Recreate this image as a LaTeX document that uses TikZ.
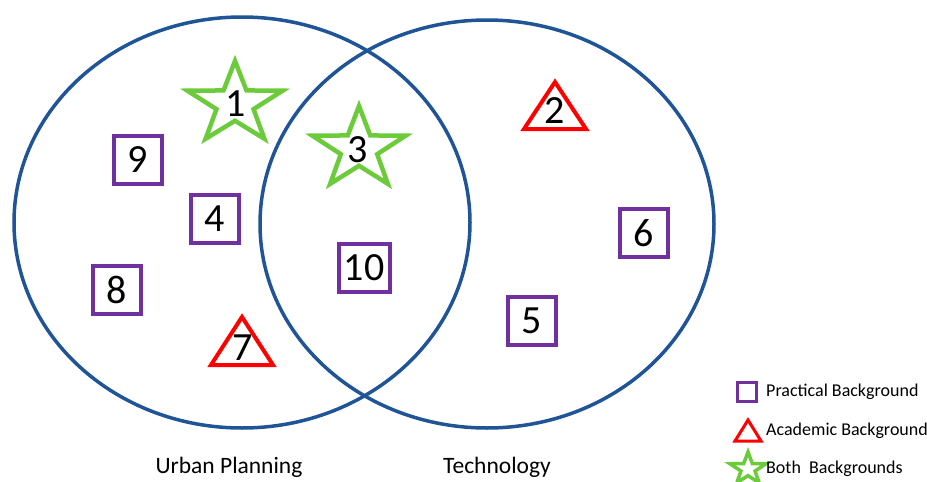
\documentclass[tikz,border=0pt]{standalone}
\usepackage{fontspec}
\setmainfont{Carlito}
\definecolor{vennblue}{RGB}{31,85,151}
\definecolor{practical}{RGB}{112,48,160}
\definecolor{academic}{RGB}{255,0,0}
\definecolor{both}{RGB}{108,203,59}

\tikzset{
	venn/.style={draw=vennblue, line width=3.5pt},
	practicalbox/.style={draw=practical, line width=4pt, minimum size=48pt, inner sep=0pt, font=\fontsize{40}{40}\selectfont},
	academicmark/.style={draw=academic, line width=4pt},
	bothmark/.style={draw=both, line width=4.5pt},
	num/.style={inner sep=0pt, font=\fontsize{40}{40}\selectfont},
	label/.style={inner sep=0pt, font=\fontsize{23.5}{23.5}\selectfont},
	key/.style={inner sep=0pt, anchor=west, font=\fontsize{18}{18}\selectfont},
}

% star: centre x, centre y, radius x, radius y
\newcommand{\starmark}[5][4.5pt]{
	\draw[bothmark, line width=#1] (#2,{#3-#5})
		\foreach \k in {0,...,3} {
			-- ({#2+0.39*#4*cos(126+72*\k)},{#3-0.39*#5*sin(126+72*\k)})
			-- ({#2+#4*cos(162+72*\k)},{#3-#5*sin(162+72*\k)})
		}
		-- ({#2+0.39*#4*cos(54)},{#3-0.39*#5*sin(54)}) -- cycle;
}
% triangle: apex x, apex y, half width, height
\newcommand{\trimark}[5][4pt]{
	\draw[academicmark, line width=#1] (#2,#3) -- ({#2+#4},{#3+#5}) -- ({#2-#4},{#3+#5}) -- cycle;
}

\begin{document}
\begin{tikzpicture}[x=1pt, y=-1pt]
	\useasboundingbox (0,0) rectangle (927,482);

	% the two sets
	\draw[venn] (242,222.5) ellipse [x radius=228, y radius=205.5];
	\draw[venn] (487,224) ellipse [x radius=227, y radius=204];
	\node[label] (urban) at (229,467) {Urban Planning};
	\node[label] (tech) at (497,467) {Technology};

	% practical background
	\node[practicalbox] (n9) at (138,160) {9};
	\node[practicalbox] (n4) at (215,219) {4};
	\node[practicalbox] (n8) at (117,290) {8};
	\node[practicalbox, minimum width=51pt] (n10) at (364,268) {10};
	\node[practicalbox] (n6) at (644,233) {6};
	\node[practicalbox] (n5) at (532,321) {5};

	% academic background
	\trimark{242}{317}{31}{48}
	\node[num] (n7) at (243,348) {7};
	\trimark{555}{82}{31}{47}
	\node[num] (n2) at (555,111) {2};

	% both backgrounds
	\starmark{235}{104}{50}{43}
	\node[num] (n1) at (236,104) {1};
	\starmark{359}{149}{49}{43}
	\node[num] (n3) at (358,150) {3};

	% legend
	\node[draw=practical, line width=3pt, minimum size=19pt, inner sep=0pt] (kp) at (747,392) {};
	\node[key] (kpt) at (766,392) {Practical Background};
	\trimark[3pt]{748}{420}{13}{21}
	\node[key] (kat) at (766,431) {Academic Background};
	\starmark[3.5pt]{748}{469}{19}{17}
	\node[key] (kbt) at (766,469) {Both~ Backgrounds};
\end{tikzpicture}
\end{document}
